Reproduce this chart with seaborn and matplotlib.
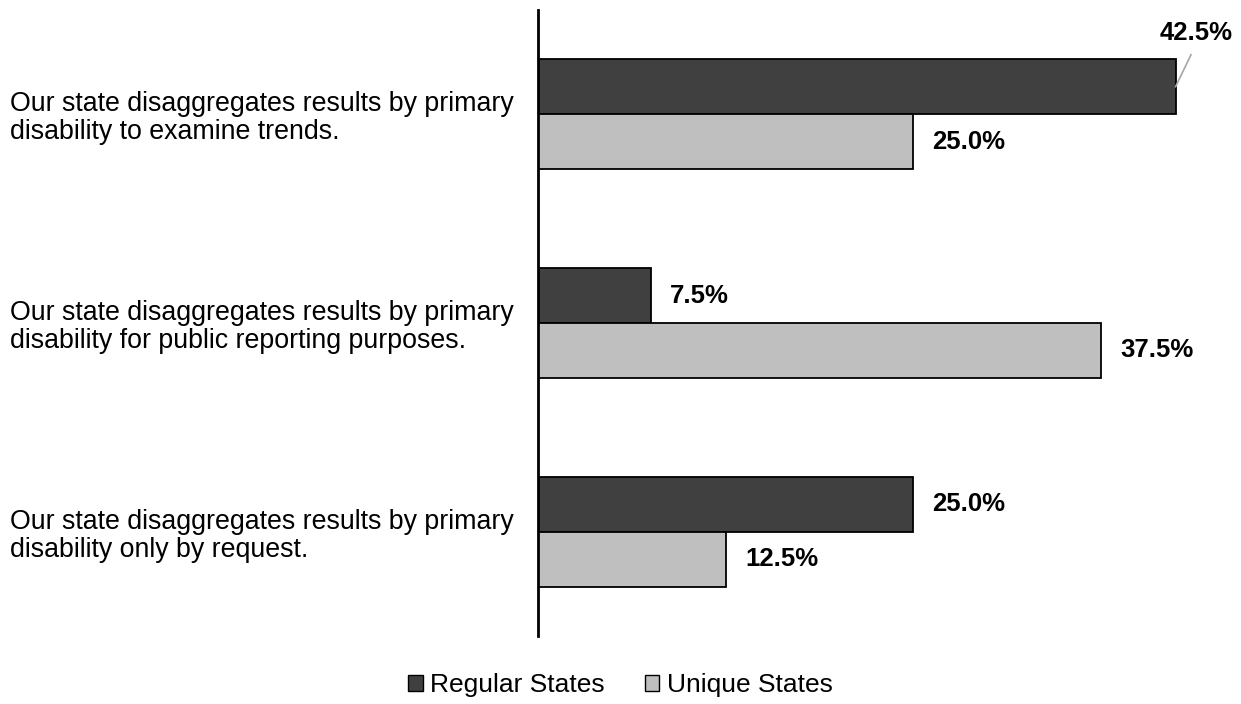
import matplotlib
matplotlib.use("Agg")
import matplotlib.pyplot as plt
import seaborn as sns
import pandas as pd

categories = [
    "Our state disaggregates results by primary\ndisability to examine trends.",
    "Our state disaggregates results by primary\ndisability for public reporting purposes.",
    "Our state disaggregates results by primary\ndisability only by request.",
]
groups = ["Regular States", "Unique States"]
regular_values = [42.5, 7.5, 25.0]
unique_values = [25.0, 37.5, 12.5]
colors = ["#404040", "#BFBFBF"]

df = pd.DataFrame({
    "category": categories * 2,
    "group": [groups[0]] * 3 + [groups[1]] * 3,
    "value": regular_values + unique_values,
})

sns.set_theme(style="white")
plt.rcParams["font.family"] = ["Liberation Sans", "DejaVu Sans"]
plt.rcParams["text.color"] = "black"
plt.rcParams["ytick.color"] = "black"
plt.rcParams["ytick.labelcolor"] = "black"

fig = plt.figure(figsize=(12.41, 7.04), dpi=100)
ax = fig.add_axes([538 / 1241, 1 - 636 / 704, 675 / 1241, 626 / 704])

sns.barplot(data=df, y="category", x="value", hue="group", order=categories,
            hue_order=groups, palette=colors, orient="h", width=0.527,
            edgecolor="black", linewidth=1.3, ax=ax, legend=True)

ax.set_xlim(0, 45)
ax.set_ylim(2.5, -0.5)
ax.set_xlabel("")
ax.set_ylabel("")
ax.set_xticks([])
for s in ["top", "right", "bottom"]:
    ax.spines[s].set_visible(False)
ax.spines["left"].set_color("black")
ax.spines["left"].set_linewidth(2)

ax.tick_params(axis="y", length=0, pad=380, labelsize=19.3, labelcolor="black")
for lbl in ax.get_yticklabels():
    lbl.set_horizontalalignment("left")
    lbl.set_multialignment("left")
    lbl.set_linespacing(1.1)

# value labels; the longest bar gets its label above, with a leader line
for container, vals in zip(ax.containers, [regular_values, unique_values]):
    for bar, v in zip(container, vals):
        yc = bar.get_y() + bar.get_height() / 2
        x_end = bar.get_width()
        if v >= 40:
            ax.annotate(f"{v:.1f}%", xy=(x_end, yc), xytext=(x_end + 1.35, -0.39),
                        ha="center", va="center", fontsize=18.5, fontweight="bold",
                        color="black", annotation_clip=False,
                        arrowprops=dict(arrowstyle="-", color="#A6A6A6", lw=1.2,
                                        relpos=(0.5, 0.0), shrinkA=5, shrinkB=0))
        else:
            ax.text(x_end + 1.3, yc, f"{v:.1f}%", ha="left", va="center",
                    fontsize=18.5, fontweight="bold", color="black")

leg = ax.legend(loc="center", bbox_to_anchor=(0.5, 19 / 704),
                bbox_transform=fig.transFigure, ncol=2, frameon=False,
                fontsize=19, handlelength=0.55, handleheight=0.55,
                handletextpad=0.3, columnspacing=1.5)
for t in leg.get_texts():
    t.set_color("black")
for h in leg.legend_handles:
    h.set_edgecolor("black")
    h.set_linewidth(1.0)

fig.savefig("out.png", dpi=100)
